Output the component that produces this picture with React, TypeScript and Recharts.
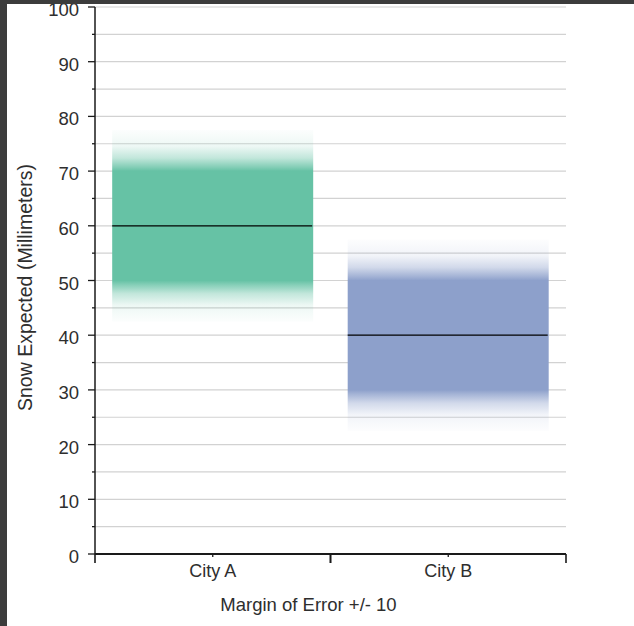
import React from 'react';
import { ComposedChart, Bar, XAxis, YAxis, CartesianGrid } from 'recharts';

// ---- data ----
const categories = ['City A', 'City B'];
const expectedSnow = [60, 40];
const marginOfError = [10, 10];
const fadeExtent = [7.5, 7.5];
const yTicks = [0, 5, 10, 15, 20, 25, 30, 35, 40, 45, 50, 55, 60, 65, 70, 75, 80, 85, 90, 95, 100];
const xAxisTitle = 'Margin of Error +/- 10';
const yAxisTitle = 'Snow Expected (Millimeters)';

// ---- layout / styles ----
const CHART_W = 634;
const CHART_H = 626;
const Y_AXIS_W = 95;
const MARGIN = { top: 7, right: 68, bottom: 0, left: 0 };
const PLOT_W = CHART_W - Y_AXIS_W - MARGIN.left - MARGIN.right;
const seriesColors = ['#66c2a5', '#8da0cb'];
const FONT = '"Liberation Sans", Arial, sans-serif';
const TEXT = '#2e2e2e';
const AXIS = '#1a1a1a';

const data = categories.map((city, i) => ({
  city,
  expected: expectedSnow[i],
  margin: marginOfError[i],
  fade: fadeExtent[i],
}));

const fadeProfile: [number, number][] = [
  [0, 0.02],
  [0.4, 0.12],
  [0.68, 0.4],
  [0.9, 0.8],
  [1, 1],
];

const GlowBox = (props: any) => {
  const { x, y, width, height, index, payload } = props;
  if (width == null || height == null) return null;
  const id = `glow-grad-${index}`;
  const span = 2 * (payload.margin + payload.fade);
  const f = payload.fade / span;
  const c = seriesColors[index % seriesColors.length];
  const midY = y + height / 2;
  return (
    <g>
      <defs>
        <linearGradient id={id} x1="0" y1="0" x2="0" y2="1">
          {fadeProfile.map(([t, o], k) => (
            <stop key={`a${k}`} offset={t * f} stopColor={c} stopOpacity={o} />
          ))}
          {fadeProfile
            .slice()
            .reverse()
            .map(([t, o], k) => (
              <stop key={`b${k}`} offset={1 - t * f} stopColor={c} stopOpacity={o} />
            ))}
        </linearGradient>
      </defs>
      <rect x={x} y={y} width={width} height={height} fill={`url(#${id})`} />
      <line x1={x} x2={x + width - 1} y1={midY} y2={midY} stroke="#000" strokeWidth={1.3} />
    </g>
  );
};

const YTick = (props: any) => {
  const { x, y, payload } = props;
  const v = payload.value;
  const major = v % 10 === 0;
  return (
    <g>
      <line x1={x - (major ? 7 : 3)} x2={x} y1={y} y2={y} stroke={AXIS} strokeWidth={1.3} />
      {major && (
        <text x={x - 16} y={y + 9} textAnchor="end" fontSize={18.5} fontFamily={FONT} fill={TEXT}>
          {v}
        </text>
      )}
    </g>
  );
};

const XTick = (props: any) => {
  const { x, y, payload } = props;
  const half = PLOT_W / categories.length / 2;
  return (
    <g>
      <line x1={x - half} x2={x - half} y1={y} y2={y + 9} stroke={AXIS} strokeWidth={1.6} />
      <line x1={x + half} x2={x + half} y1={y} y2={y + 9} stroke={AXIS} strokeWidth={1.6} />
      <line x1={x} x2={x} y1={y} y2={y + 3} stroke={AXIS} strokeWidth={1.3} />
      <text x={x} y={y + 23} textAnchor="middle" fontSize={18} fontFamily={FONT} fill={TEXT}>
        {payload.value}
      </text>
    </g>
  );
};

export default function App() {
  return (
    <div
      style={{
        position: 'absolute',
        left: 0,
        top: 0,
        width: CHART_W,
        height: CHART_H,
        background: '#ffffff',
        overflow: 'hidden',
      }}
    >
      <ComposedChart
        width={CHART_W}
        height={CHART_H}
        data={data}
        margin={MARGIN}
        barCategoryGap="7.3%"
      >
        <CartesianGrid vertical={false} stroke="#d2d2d2" strokeWidth={1.2} />
        <Bar
          dataKey={(d: any) => [d.expected - d.margin - d.fade, d.expected + d.margin + d.fade]}
          shape={GlowBox}
          isAnimationActive={false}
        />
        <XAxis
          dataKey="city"
          height={72}
          axisLine={{ stroke: AXIS, strokeWidth: 1.8 }}
          tickLine={false}
          tickSize={0}
          tickMargin={0}
          tick={<XTick />}
          interval={0}
          label={{
            value: xAxisTitle,
            position: 'insideBottom',
            offset: 15,
            dx: -22,
            fontSize: 18.5,
            fontFamily: FONT,
            fill: TEXT,
          }}
        />
        <YAxis
          width={Y_AXIS_W}
          domain={[0, 100]}
          ticks={yTicks}
          interval={0}
          tickSize={0}
          tickMargin={0}
          tickLine={false}
          axisLine={{ stroke: AXIS, strokeWidth: 1.5 }}
          tick={<YTick />}
          allowDataOverflow
          label={{
            value: yAxisTitle,
            angle: -90,
            position: 'center',
            dx: -22,
            dy: 7,
            fontSize: 19.5,
            fontFamily: FONT,
            fill: TEXT,
          }}
        />
      </ComposedChart>
      <div style={{ position: 'absolute', left: 0, top: 0, width: CHART_W, height: 4, background: '#3c3c3c' }} />
      <div style={{ position: 'absolute', left: 0, top: 0, width: 7, height: CHART_H, background: '#3c3c3c' }} />
    </div>
  );
}
